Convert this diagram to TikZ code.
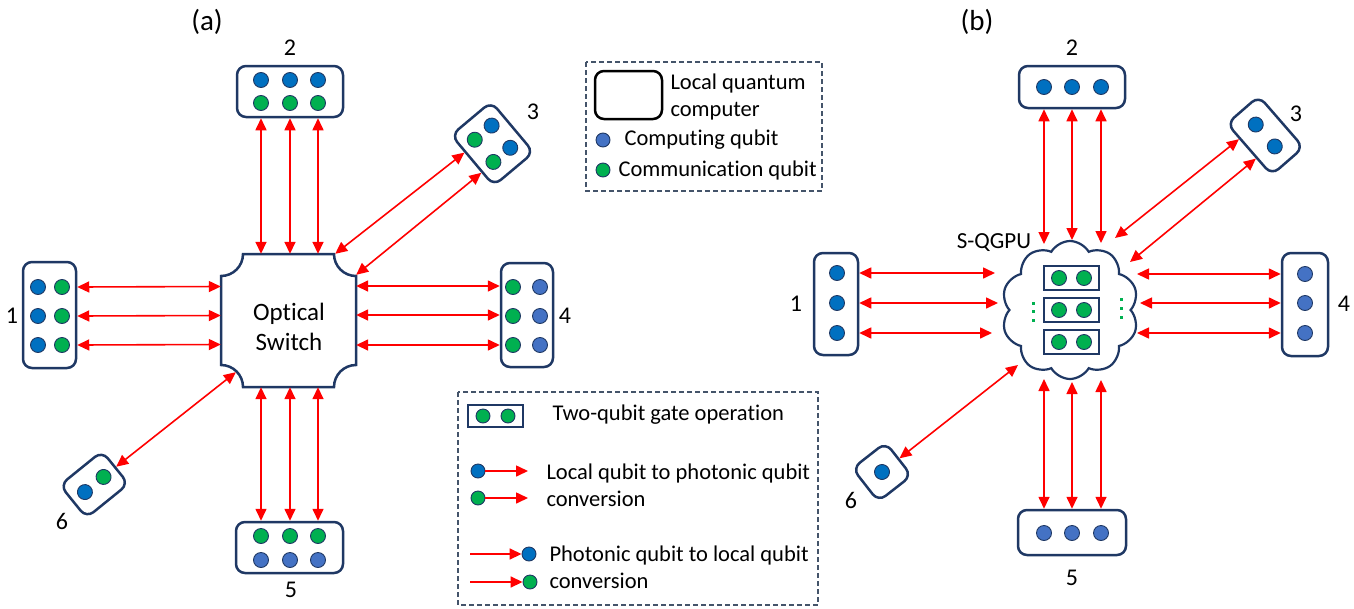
\documentclass[tikz,border=0pt]{standalone}
\usepackage{fontspec}
\setmainfont{Carlito}[Ligatures={NoCommon}]
\usetikzlibrary{arrows.meta,shapes.symbols,calc}
\definecolor{navy}{HTML}{1F3864}
\definecolor{qblue}{HTML}{0070C0}
\definecolor{qlblue}{HTML}{4472C4}
\definecolor{qgreen}{HTML}{00B050}
\definecolor{legline}{HTML}{44546A}
\begin{document}
\begin{tikzpicture}[x=1pt,y=-1pt,
  qc/.style={draw=navy, line width=2.5pt, rounded corners=9pt, fill=white, inner sep=0pt},
  qb/.style={circle, draw=navy, line width=0.9pt, minimum size=15pt, inner sep=0pt},
  cq/.style={qb, fill=qblue},
  lq/.style={qb, fill=qlblue},
  gq/.style={qb, fill=qgreen},
  pairbox/.style={draw=navy, line width=1.5pt, minimum width=55pt, minimum height=24pt, inner sep=0pt},
  link/.style={red, line width=1.6pt, {Triangle[length=12pt,width=11pt]}-{Triangle[length=12pt,width=11pt]}},
  oneway/.style={red, line width=1.6pt, -{Triangle[length=12pt,width=11pt]}},
  lbl/.style={font=\fontsize{24}{28}\selectfont},
  paneltitle/.style={font=\fontsize{29}{33}\selectfont},
  legtext/.style={anchor=west, align=left, font=\fontsize{22.5}{27}\selectfont},
  legframe/.style={draw=legline, line width=1.2pt, dash pattern=on 5pt off 3pt},
]
\useasboundingbox (0,0) rectangle (1354,608);

% ---------------- panel (a) ----------------
\node[paneltitle] (ta) at (207,22) {(a)};

% optical switch with concave corners
\draw[navy, line width=2.5pt, fill=white]
  (243,254) -- (334,254) arc[start angle=180,end angle=90,radius=22]
  -- (356,365) arc[start angle=270,end angle=180,radius=22]
  -- (243,387) arc[start angle=360,end angle=270,radius=22]
  -- (221,276) arc[start angle=90,end angle=0,radius=22] -- cycle;
\node[minimum width=135pt, minimum height=133pt, inner sep=0pt] (sw) at (288.5,320.5) {};
\node[align=center, font=\fontsize{25}{30}\selectfont] (swtext) at (289,327) {Optical\\Switch};

% computer 1
\node[qc, minimum width=53pt, minimum height=106pt] (a1) at (49.5,315) {};
\foreach \y [count=\i] in {287,316,345} {
  \node[cq] (a1b\i) at (38,\y) {};
  \node[gq] (a1g\i) at (62,\y) {};
}
\node[lbl] (la1) at (12,316) {1};

% computer 2
\node[qc, minimum width=106pt, minimum height=51pt] (a2) at (290,91.5) {};
\foreach \x [count=\i] in {261,290,318} {
  \node[cq] (a2b\i) at (\x,80) {};
  \node[gq] (a2g\i) at (\x,103) {};
}
\node[lbl] (la2) at (290,48) {2};

% computer 4
\node[qc, minimum width=52pt, minimum height=104pt] (a4) at (527,315) {};
\foreach \y [count=\i] in {287,316,345} {
  \node[gq] (a4g\i) at (513,\y) {};
  \node[lq] (a4b\i) at (540,\y) {};
}
\node[lbl] (la4) at (565,316) {4};

% computer 5
\node[qc, minimum width=107pt, minimum height=51pt] (a5) at (289.5,547.5) {};
\foreach \x [count=\i] in {261,290,318} {
  \node[gq] (a5g\i) at (\x,536) {};
  \node[lq] (a5b\i) at (\x,560) {};
}
\node[lbl] (la5) at (291,590) {5};

% computer 3 (tilted)
\begin{scope}[shift={(492.5,143.75)}, rotate=-50, transform shape]
  \node[qc, minimum width=66pt, minimum height=52pt] (a3) at (0,0) {};
  \node[cq] (a3b1) at (-14.5,-11) {};
  \node[cq] (a3b2) at (14.5,-11) {};
  \node[gq] (a3g1) at (-14.5,11) {};
  \node[gq] (a3g2) at (14.5,11) {};
\end{scope}
\node[lbl] (la3) at (533,112) {3};

% computer 6 (tilted)
\begin{scope}[shift={(94.25,484.5)}, rotate=39, transform shape]
  \node[qc, minimum width=54pt, minimum height=42pt] (a6) at (0,0) {};
  \node[cq] (a6b1) at (-12,0) {};
  \node[gq] (a6g1) at (12,0) {};
\end{scope}
\node[lbl] (la6) at (62,521) {6};

% links of panel (a)
\draw[link] ($(a1.east)+(0,-28)$) -- ($(sw.west)+(0,-34)$);
\draw[link] ($(a1.east)+(0,1)$) -- ($(sw.west)+(0,-5)$);
\draw[link] ($(a1.east)+(0,30)$) -- ($(sw.west)+(0,24)$);
\draw[link] ($(a4.west)+(0,-29)$) -- ($(sw.east)+(0,-34.5)$);
\draw[link] ($(a4.west)+(0,0)$) -- ($(sw.east)+(0,-5.5)$);
\draw[link] ($(a4.west)+(0,30)$) -- ($(sw.east)+(0,24.5)$);
\draw[link] ($(a2.south)+(-29,0)$) -- ($(sw.north)+(-27.5,0)$);
\draw[link] ($(a2.south)+(0,0)$) -- ($(sw.north)+(1.5,0)$);
\draw[link] ($(a2.south)+(28,0)$) -- ($(sw.north)+(29.5,0)$);
\draw[link] ($(a5.north)+(-28.5,0)$) -- ($(sw.south)+(-27.5,0)$);
\draw[link] ($(a5.north)+(0.5,0)$) -- ($(sw.south)+(1.5,0)$);
\draw[link] ($(a5.north)+(28.5,0)$) -- ($(sw.south)+(29.5,0)$);
\draw[link] ($(a3.south)!0.33!(a3.south west)$) -- ([xshift=-21pt]sw.north east);
\draw[link] ($(a3.south)!0.44!(a3.south east)$) -- ([yshift=-21pt]sw.north east);
\draw[link] (a6.east) -- ([xshift=15pt,yshift=15pt]sw.south west);

% legend: symbols
\draw[legframe] (586,62) rectangle (822,191);
\node[draw=black, line width=2.5pt, rounded corners=9pt, minimum width=67pt, minimum height=48pt] (legqc) at (628.5,95) {};
\node[legtext] (legqct) at (667,96.5) {Local quantum\\computer};
\node[lq, minimum size=14pt] (legcq) at (603,140) {};
\node[legtext] (legcqt) at (621,140) {Computing qubit};
\node[gq, minimum size=14pt] (leggq) at (603,170) {};
\node[legtext] (leggqt) at (615,170) {Communication qubit};

% legend: operations
\draw[legframe] (458,392) rectangle (818,605);
\node[pairbox, minimum height=22pt] (legpair) at (495.5,416) {};
\node[gq, minimum size=14pt] (legp1) at (483,416) {};
\node[gq, minimum size=14pt] (legp2) at (508,416) {};
\node[legtext] (legpt) at (549,415) {Two-qubit gate operation};

\node[cq, minimum size=14pt] (legout1) at (478,471) {};
\node[gq, minimum size=14pt] (legout2) at (478,498) {};
\coordinate (legoutend1) at (528,471);
\coordinate (legoutend2) at (528,498);
\draw[oneway] (legout1) -- (legoutend1);
\draw[oneway] (legout2) -- (legoutend2);
\node[legtext] (legoutt) at (543,485) {Local qubit to photonic qubit\\conversion};

\node[cq, minimum size=14pt] (legin1) at (529,554) {};
\node[gq, minimum size=14pt] (legin2) at (530,582) {};
\coordinate (leginstart1) at (470,554);
\coordinate (leginstart2) at (470,582);
\draw[oneway] (leginstart1) -- (legin1);
\draw[oneway] (leginstart2) -- (legin2);
\node[legtext] (leginto) at (546,567) {Photonic qubit to local qubit\\conversion};

% ---------------- panel (b) ----------------
\node[paneltitle] (tb) at (977,22) {(b)};

% shared QGPU cloud
\node[cloud, cloud puffs=10, cloud puff arc=120, aspect=1, draw=navy, line width=2.2pt, fill=white,
      minimum width=137pt, minimum height=138pt, inner sep=0pt] (cl) at (1070,310) {};
\foreach \y [count=\i] in {278,310,342} {
  \node[pairbox] (gate\i) at (1071.5,\y) {};
  \node[gq] (gate\i a) at (1059,\y) {};
  \node[gq] (gate\i b) at (1084,\y) {};
}
\foreach \y in {303,311.5,320} \fill[qgreen] (1031.5,\y-1.5) rectangle (1034.5,\y+1.5);
\foreach \y in {299,308,317} \fill[qgreen] (1119.5,\y-1.5) rectangle (1122.5,\y+1.5);
\node[font=\fontsize{23}{27}\selectfont] (sq) at (994,243) {S-QGPU};

% computers of panel (b)
\node[qc, minimum width=44pt, minimum height=102pt] (b1) at (836,304) {};
\foreach \y [count=\i] in {273,303,333} \node[cq] (b1q\i) at (837,\y) {};
\node[lbl] (lb1) at (796,304) {1};

\node[qc, minimum width=106pt, minimum height=42pt] (b2) at (1072,87) {};
\foreach \x [count=\i] in {1044,1072,1101} \node[cq] (b2q\i) at (\x,87) {};
\node[lbl] (lb2) at (1072,48) {2};

\node[qc, minimum width=46pt, minimum height=103pt] (b4) at (1305,304.5) {};
\foreach \y [count=\i] in {274,303,333} \node[lq] (b4q\i) at (1305,\y) {};
\node[lbl] (lb4) at (1344,304) {4};

\node[qc, minimum width=108pt, minimum height=45pt] (b5) at (1072,532.5) {};
\foreach \x [count=\i] in {1044,1072,1101} \node[lq] (b5q\i) at (\x,533) {};
\node[lbl] (lb5) at (1072,578) {5};

\begin{scope}[shift={(1265.25,135.5)}, rotate=-49, transform shape]
  \node[qc, minimum width=68pt, minimum height=42pt] (b3) at (0,0) {};
  \node[cq] (b3q1) at (-14.5,0) {};
  \node[cq] (b3q2) at (14.5,0) {};
\end{scope}
\node[lbl] (lb3) at (1296,114) {3};

\begin{scope}[shift={(882,472)}, rotate=38, transform shape]
  \node[qc, minimum width=42pt, minimum height=42pt] (b6) at (0,0) {};
  \node[cq] (b6q) at (0,0) {};
\end{scope}
\node[lbl] (lb6) at (851,500) {6};

% links of panel (b)
\draw[link] ($(b1.east)+(0,-31)$) -- ($(cl.center)+(-75,-37)$);
\draw[link] ($(b1.east)+(0,-1)$) -- ($(cl.center)+(-72,-7)$);
\draw[link] ($(b1.east)+(0,29)$) -- ($(cl.center)+(-78,23)$);
\draw[link] ($(b4.west)+(0,-30.5)$) -- ($(cl.center)+(67,-36)$);
\draw[link] ($(b4.west)+(0,-1.5)$) -- ($(cl.center)+(70,-7)$);
\draw[link] ($(b4.west)+(0,28.5)$) -- ($(cl.center)+(67,23)$);
\draw[link] ($(b2.south)+(-28,0)$) -- ($(cl.center)+(-26,-66)$);
\draw[link] ($(b2.south)+(0,0)$) -- ($(cl.center)+(2,-70)$);
\draw[link] ($(b2.south)+(29,0)$) -- ($(cl.center)+(31,-67)$);
\draw[link] ($(b5.north)+(-28,0)$) -- ($(cl.center)+(-26,69)$);
\draw[link] ($(b5.north)+(0,0)$) -- ($(cl.center)+(2,72)$);
\draw[link] ($(b5.north)+(29,0)$) -- ($(cl.center)+(31,70)$);
\draw[link] ($(b3.south)!0.41!(b3.south west)$) -- ($(cl.center)+(45,-72)$);
\draw[link] ($(b3.south)!0.32!(b3.south east)$) -- ($(cl.center)+(60,-48)$);
\draw[link] (b6.east) -- ($(cl.center)+(-52,55)$);
\end{tikzpicture}
\end{document}
